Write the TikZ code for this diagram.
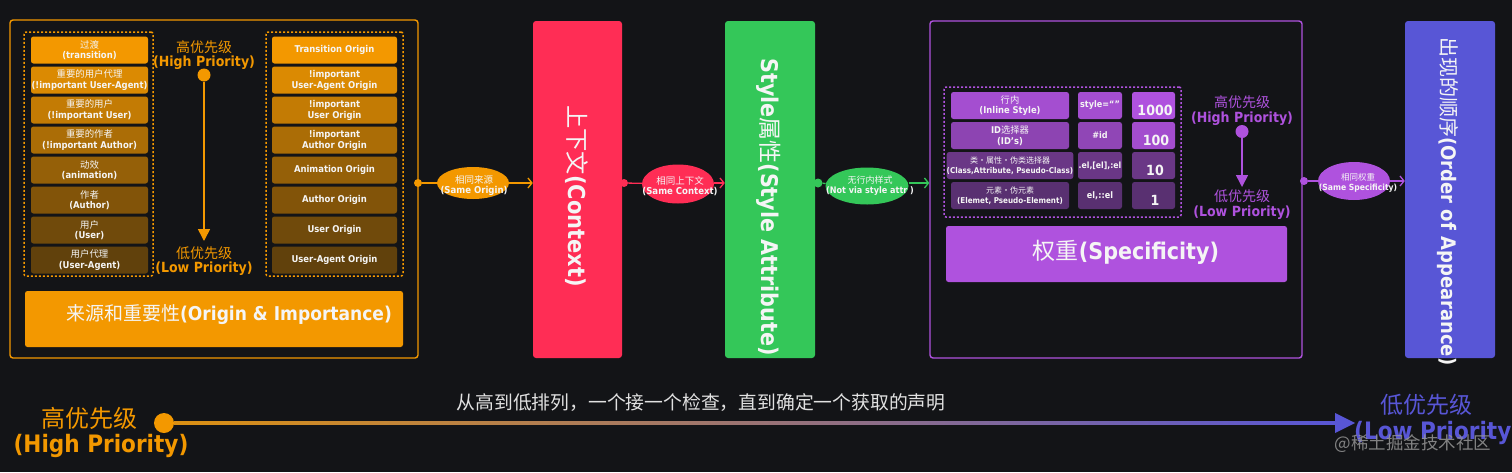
\documentclass[tikz,border=0pt]{standalone}
\usepackage{fontspec}
\setmainfont{DejaVu Sans}[FakeStretch=0.9]
\newfontfamily\cjkf{Noto Sans CJK SC}
\usetikzlibrary{shapes.geometric,arrows.meta}
\definecolor{bg}{RGB}{19,20,23}
\definecolor{orng}{RGB}{243,152,0}
\definecolor{rd}{RGB}{255,45,85}
\definecolor{gr}{RGB}{52,199,89}
\definecolor{pu}{RGB}{175,82,222}
\definecolor{bl}{RGB}{88,86,214}
\definecolor{brn}{RGB}{25,22,18}
\definecolor{txt}{RGB}{245,245,245}
\definecolor{wm}{RGB}{150,150,150}
\newcommand\fsz[2]{\fontsize{#1}{#2}\selectfont}
\begin{document}
\begin{tikzpicture}[x=1pt,y=-1pt,
  frame/.style={draw, line width=1.4pt, rounded corners=3pt, inner sep=0pt},
  dashbox/.style={draw, line width=1.5pt, dash pattern=on 2pt off 2pt, rounded corners=2pt, inner sep=0pt},
  item/.style={rounded corners=2.5pt, minimum height=27pt, inner sep=0pt, text=txt, align=center},
  litem/.style={item, minimum width=117pt, font=\fsz{9.4}{10.6}},
  ritem/.style={item, minimum width=125pt, font=\bfseries\fsz{9.4}{11}},
  dot/.style={circle, fill=#1, minimum size=8pt, inner sep=0pt},
  oval/.style={ellipse, fill=#1, inner sep=0pt},
  ovaltxt/.style={text=txt, align=center, inner sep=0pt},
  pillar/.style={rounded corners=3pt, minimum width=90pt, minimum height=337pt, inner sep=0pt},
  vtxt/.style={rotate=-90, anchor=west, text=txt, inner sep=0pt},
  conn/.style={line width=1.3pt},
  arr/.style={line width=1.3pt, -{Straight Barb[length=4pt,width=10pt]}},
  cell/.style={rounded corners=2.5pt, minimum height=27pt, inner sep=0pt, text=txt, align=center},
  prio/.style={align=center, inner sep=0pt}
]
\path[use as bounding box, fill=bg] (0,0) rectangle (1512,472);

% ---------- Origin & Importance ----------
\node[frame, draw=orng, minimum width=408pt, minimum height=338pt] (origbox) at (214,189) {};
\node[dashbox, draw=orng, minimum width=129pt, minimum height=244pt] (ldash) at (88.5,154) {};
\node[dashbox, draw=orng, minimum width=137pt, minimum height=244pt] (rdash) at (334.5,154) {};

\node[litem, fill=orng!100!brn] (l1) at (89.5,50) {{\cjkf 过渡}\\\textbf{(transition)}};
\node[litem, fill=orng!89!brn] (l2) at (89.5,80) {{\cjkf 重要的用户代理}\\\textbf{(!important User-Agent)}};
\node[litem, fill=orng!78!brn] (l3) at (89.5,110) {{\cjkf 重要的用户}\\\textbf{(!important User)}};
\node[litem, fill=orng!67!brn] (l4) at (89.5,140) {{\cjkf 重要的作者}\\\textbf{(!important Author)}};
\node[litem, fill=orng!57!brn] (l5) at (89.5,170) {{\cjkf 动效}\\\textbf{(animation)}};
\node[litem, fill=orng!48!brn] (l6) at (89.5,200) {{\cjkf 作者}\\\textbf{(Author)}};
\node[litem, fill=orng!40!brn] (l7) at (89.5,230) {{\cjkf 用户}\\\textbf{(User)}};
\node[litem, fill=orng!33!brn] (l8) at (89.5,260) {{\cjkf 用户代理}\\\textbf{(User-Agent)}};

\node[ritem, fill=orng!100!brn] (r1) at (334.5,50) {Transition Origin};
\node[ritem, fill=orng!89!brn] (r2) at (334.5,80) {!important\\User-Agent Origin};
\node[ritem, fill=orng!78!brn] (r3) at (334.5,110) {!important\\User Origin};
\node[ritem, fill=orng!67!brn] (r4) at (334.5,140) {!important\\Author Origin};
\node[ritem, fill=orng!57!brn] (r5) at (334.5,170) {Animation Origin};
\node[ritem, fill=orng!48!brn] (r6) at (334.5,200) {Author Origin};
\node[ritem, fill=orng!40!brn] (r7) at (334.5,230) {User Origin};
\node[ritem, fill=orng!33!brn] (r8) at (334.5,260) {User-Agent Origin};

\node[prio, text=orng, font=\fsz{14}{14.5}] (ohptxt) at (204,55) {{\cjkf 高优先级}\\\textbf{(High Priority)}};
\node[circle, fill=orng, minimum size=13pt, inner sep=0pt] (ohp) at (204,75) {};
\coordinate (olpend) at (204,241);
\draw[orng, line width=1.6pt, -{Triangle[length=12pt,width=12pt]}] (ohp) -- (olpend);
\node[prio, text=orng, font=\fsz{14}{14.5}] (olptxt) at (204,261) {{\cjkf 低优先级}\\\textbf{(Low Priority)}};

\node[rounded corners=2.5pt, fill=orng, minimum width=378pt, minimum height=56pt, inner sep=0pt] (origlbl) at (214,319) {};
\node[text=txt, inner sep=0pt, font=\fsz{19}{20}] (origtxt) at (229,315) {{\cjkf 来源和重要性}\textbf{(Origin \& Importance)}};

% ---------- Context ----------
\node[pillar, fill=rd, minimum width=89pt] (ctxbox) at (577.5,189.5) {};
\node[vtxt, font=\fsz{23.3}{24}] (ctxtxt) at (577,105) {{\cjkf 上下文}\textbf{(Context)}};

% ---------- Style Attribute ----------
\node[pillar, fill=gr] (stybox) at (770,189.5) {};
\node[vtxt, font=\fsz{23}{24}] (stytxt) at (769,58) {\textbf{Style}{\cjkf 属性}\textbf{(Style Attribute)}};

% ---------- Specificity ----------
\node[frame, draw=pu, minimum width=372pt, minimum height=337pt] (spebox) at (1116,189.5) {};
\node[dashbox, draw=pu, minimum width=237pt, minimum height=130pt] (spedash) at (1062.5,152) {};

\node[cell, fill=pu!93!bg, minimum width=118pt, font=\fsz{9.3}{10.5}] (c11) at (1010,105.5) {{\cjkf 行内}\\\textbf{(Inline Style)}};
\node[cell, fill=pu!93!bg, minimum width=44pt, font=\bfseries\fsz{9}{10}] (c12) at (1100,105.5) {style=“”};
\node[cell, fill=pu, minimum width=43pt, font=\bfseries\fsz{14}{15}] (c13) at (1153.5,105.5) {};
\node[text=txt, inner sep=0pt, font=\bfseries\fsz{14}{15}] (n1) at (1155,110) {1000};

\node[cell, fill=pu!78!bg, minimum width=118pt, font=\fsz{9.3}{10.5}] (c21) at (1010,135.5) {\textbf{ID}{\cjkf 选择器}\\\textbf{(ID’s)}};
\node[cell, fill=pu!80!bg, minimum width=44pt, font=\bfseries\fsz{9}{10}] (c22) at (1100,135.5) {\#id};
\node[cell, fill=pu!92!bg, minimum width=43pt] (c23) at (1153.5,135.5) {};
\node[text=txt, inner sep=0pt, font=\bfseries\fsz{14}{15}] (n2) at (1156,140) {100};

\node[cell, fill=pu!56!bg, minimum width=118pt, font=\fsz{8}{10}] (c31) at (1010,165.5) {{\cjkf 类・属性・伪类选择器}\\\textbf{(Class,Attribute, Pseudo-Class)}};
\node[cell, fill=pu!56!bg, minimum width=44pt, font=\bfseries\fsz{8.6}{10}] (c32) at (1100,165.5) {.el,[el],:el};
\node[cell, fill=pu!56!bg, minimum width=43pt] (c33) at (1153.5,165.5) {};
\node[text=txt, inner sep=0pt, font=\bfseries\fsz{14}{15}] (n3) at (1155,170) {10};

\node[cell, fill=pu!45!bg, minimum width=118pt, font=\fsz{8}{10}] (c41) at (1010,195.5) {{\cjkf 元素・伪元素}\\\textbf{(Elemet, Pseudo-Element)}};
\node[cell, fill=pu!45!bg, minimum width=44pt, font=\bfseries\fsz{9}{10}] (c42) at (1100,195.5) {el,::el};
\node[cell, fill=pu!45!bg, minimum width=43pt] (c43) at (1153.5,195.5) {};
\node[text=txt, inner sep=0pt, font=\bfseries\fsz{14}{15}] (n4) at (1155,200) {1};

\node[prio, text=pu, font=\fsz{14}{15}] (shptxt) at (1242,111) {{\cjkf 高优先级}\\\textbf{(High Priority)}};
\node[circle, fill=pu, minimum size=13pt, inner sep=0pt] (shp) at (1242,131.5) {};
\coordinate (slpend) at (1242,187);
\draw[pu, line width=1.6pt, -{Triangle[length=12pt,width=12pt]}] (shp) -- (slpend);
\node[prio, text=pu, font=\fsz{14}{15}] (slptxt) at (1242,205) {{\cjkf 低优先级}\\\textbf{(Low Priority)}};

\node[rounded corners=2.5pt, fill=pu, minimum width=341pt, minimum height=56pt, inner sep=0pt] (spelbl) at (1116.5,254) {};
\node[text=txt, inner sep=0pt, font=\fsz{23}{24}] (spetxt) at (1126,252) {{\cjkf 权重}\textbf{(Specificity)}};

% ---------- Order of Appearance ----------
\node[pillar, fill=bl] (ordbox) at (1450,189.5) {};
\node[vtxt, font=\fsz{20}{22}] (ordtxt) at (1448,37) {{\cjkf 出现的顺序}\textbf{(Order of Appearance)}};

% ---------- connectors ----------
\node[dot=orng] (d1) at (418,183) {};
\node[oval=orng, minimum width=72pt, minimum height=32pt] (e1) at (473,183) {};
\node[ovaltxt, font=\fsz{9.5}{10}] (e1t) at (474,186) {{\cjkf 相同来源}\\\textbf{(Same Origin)}};
\draw[orng, conn] (d1) -- (e1);
\draw[orng, arr] (e1.east) -- (ctxbox.west |- e1.east);

\node[dot=rd] (d2) at (624,183) {};
\node[oval=rd, minimum width=72pt, minimum height=39pt] (e2) at (678,184) {};
\node[ovaltxt, font=\fsz{9.5}{10}] (e2t) at (680,186) {{\cjkf 相同上下文}\\\textbf{(Same Context)}};
\draw[rd, conn] (d2) -- (e2);
\draw[rd, arr] (e2.east |- d2) -- (stybox.west |- d2);

\node[dot=gr, minimum size=9pt] (d3) at (818,183) {};
\node[oval=gr, minimum width=83pt, minimum height=37pt] (e3) at (867,186) {};
\node[ovaltxt, font=\fsz{9}{10}] (e3t) at (870,186) {{\cjkf 无行内样式}\\\textbf{(Not via style attr )}};
\draw[gr, conn] (d3) -- (e3);
\draw[gr, arr] (e3.east |- d3) -- (spebox.west |- d3);

\node[dot=pu] (d4) at (1304,181) {};
\node[oval=pu, minimum width=72pt, minimum height=38pt] (e4) at (1354,181) {};
\node[ovaltxt, font=\fsz{8.5}{9.5}] (e4t) at (1358,183) {{\cjkf 相同权重}\\\textbf{(Same Specificity)}};
\draw[pu, conn] (d4) -- (e4);
\draw[pu, arr] (e4.east) -- (ordbox.west |- e4.east);

% ---------- bottom scale ----------
\node[circle, fill=orng, minimum size=20pt, inner sep=0pt] (bhp) at (164,423) {};
\coordinate (bend) at (1355,423);
\shade[left color=orng!92!white!90!black, middle color={rgb,255:red,175;green,125;blue,135}, right color=bl] ([yshift=-1.8pt]bhp.east) rectangle ([xshift=-17pt,yshift=1.8pt]bend);
\fill[bl] ([xshift=-20pt,yshift=10pt]bend) -- (bend) -- ([xshift=-20pt,yshift=-10pt]bend) -- cycle;
\node[text=orng, inner sep=0pt, font=\fsz{24}{24}] (bhptxt) at (89,418) {\cjkf 高优先级};
\node[text=orng, inner sep=0pt, font=\bfseries\fsz{24}{24}] (bhptxt2) at (101,446) {(High Priority)};
\node[text=txt!92!black, inner sep=0pt, font=\fsz{18.8}{20}] (midtxt) at (701,403) {\cjkf 从高到低排列，一个接一个检查，直到确定一个获取的声明};
\node[text=bl, inner sep=0pt, font=\fsz{23}{24}] (blptxt) at (1426,405) {\cjkf 低优先级};
\node[text=bl, inner sep=0pt, anchor=west, font=\bfseries\fsz{24}{24}] (blptxt2) at (1354,433) {(Low Priority)};
\node[text=wm, opacity=0.85, inner sep=0pt, font=\fsz{17.5}{18}] (wmark) at (1413,444) {\cjkf @稀土掘金技术社区};
\end{tikzpicture}
\end{document}
